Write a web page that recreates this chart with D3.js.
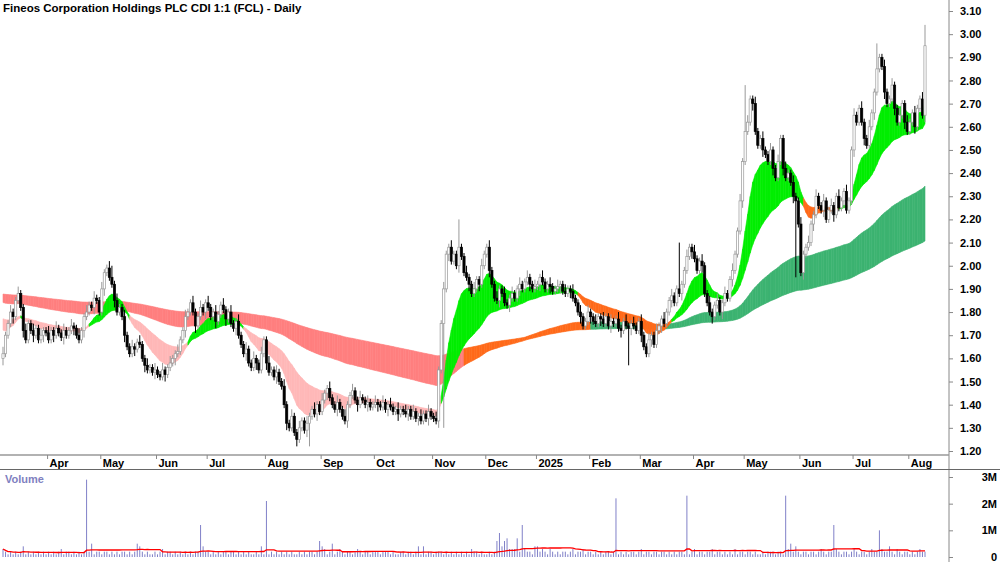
<!DOCTYPE html><html><head><meta charset="utf-8">
<script src="https://cdn.jsdelivr.net/npm/d3@7"></script>
<style>body{margin:0;background:#fff}svg{display:block;font-family:Arial,"Liberation Sans",sans-serif}</style></head><body>
<svg id="c" width="1000" height="562"></svg>
<script>
const title = "Fineos Corporation Holdings PLC CDI 1:1 (FCL) - Daily";
const monthLabels = ["Mar","Apr","May","Jun","Jul","Aug","Sep","Oct","Nov","Dec","2025","Feb","Mar","Apr","May","Jun","Jul","Aug"];
const monthCloses = [
 [1.62,1.70,1.75,1.80,1.78,1.85,1.88,1.82,1.72,1.68,1.75,1.72,1.70,1.73,1.68,1.70,1.72,1.71],
 [1.68,1.72,1.70,1.73,1.71,1.69,1.72,1.70,1.72,1.74,1.73,1.70,1.68,1.72,1.78,1.80,1.83,1.82,1.86,1.85,1.80],
 [1.90,1.97,1.99,1.95,1.92,1.85,1.80,1.82,1.78,1.70,1.65,1.62,1.65,1.64,1.67,1.66,1.60,1.57,1.55,1.56,1.54,1.55],
 [1.53,1.52,1.55,1.53,1.56,1.58,1.60,1.62,1.63,1.68,1.72,1.78,1.80,1.84,1.80,1.74,1.78,1.82,1.80,1.84],
 [1.82,1.78,1.80,1.76,1.79,1.83,1.81,1.77,1.80,1.75,1.73,1.76,1.70,1.66,1.62,1.64,1.58,1.56,1.60,1.58,1.55,1.62,1.68],
 [1.58,1.54,1.55,1.52,1.54,1.50,1.48,1.40,1.32,1.30,1.35,1.28,1.25,1.30,1.33,1.29,1.32,1.35,1.38,1.36,1.40,1.37],
 [1.42,1.45,1.47,1.43,1.40,1.38,1.41,1.38,1.35,1.33,1.40,1.44,1.46,1.42,1.40,1.43,1.42,1.40,1.41,1.39,1.40],
 [1.41,1.40,1.39,1.41,1.38,1.40,1.39,1.37,1.38,1.36,1.38,1.37,1.36,1.38,1.35,1.37,1.34,1.35,1.33,1.36,1.34,1.37,1.35],
 [1.34,1.33,1.55,1.75,1.90,2.05,2.08,2.02,2.05,2.00,2.08,2.04,1.97,1.95,1.92,1.88,1.90,1.94,1.92,2.00,2.05],
 [2.08,1.98,1.92,1.86,1.85,1.90,1.88,1.84,1.83,1.86,1.88,1.86,1.90,1.92,1.90,1.93,1.95,1.92,1.90,1.91],
 [1.92,1.95,1.93,1.90,1.92,1.91,1.89,1.90,1.91,1.92,1.89,1.88,1.90,1.89,1.86,1.84,1.80,1.78,1.74,1.76,1.80],
 [1.78,1.76,1.75,1.78,1.77,1.75,1.78,1.74,1.76,1.75,1.77,1.73,1.72,1.76,1.74,1.73,1.75,1.74,1.72,1.76],
 [1.70,1.65,1.62,1.68,1.70,1.66,1.72,1.74,1.77,1.75,1.80,1.85,1.87,1.84,1.90,1.88,1.92,1.98,2.04,2.08,2.06],
 [2.03,1.98,2.02,2.00,1.88,1.84,1.80,1.78,1.83,1.85,1.80,1.84,1.88,1.86,1.94,1.98,2.05,2.15,2.28,2.45],
 [2.58,2.62,2.72,2.70,2.58,2.52,2.55,2.50,2.48,2.45,2.50,2.42,2.38,2.45,2.55,2.42,2.38,2.40,2.36,2.30,2.28,2.18],
 [1.97,2.05,2.08,2.10,2.18,2.22,2.30,2.26,2.24,2.28,2.20,2.24,2.26,2.22,2.30,2.25,2.28,2.32,2.24,2.28,2.50],
 [2.65,2.62,2.68,2.62,2.55,2.52,2.60,2.66,2.75,2.85,2.90,2.86,2.75,2.70,2.72,2.78,2.68,2.62,2.65,2.70,2.62,2.58],
 [2.62,2.66,2.60,2.68,2.72,2.65,2.95]
];
const firstOpen = [1.60];
const extraHighs = [[6,1.91],[43,2.00],[180,2.20],[267,2.10],[293,2.78],[345,2.96],[364,3.04]];
const extraLows  = [[121,1.22],[174,1.30],[247,1.57],[313,1.95]];
const shortPeriods = [12,15,20,25,30,35];
const shortSeeds   = [1.74,1.745,1.755,1.765,1.775,1.78];
const longPeriods  = [110,130,150,170,200,240];
const longSeeds    = [1.845,1.852,1.859,1.866,1.873,1.88];
// daily volumes, in units of 100k shares
const volumes = [3,2,1,2,1,2,1,2,4,1,2,1,2,1,2,1,2,1,2,1,2,1,2,3,1,2,2,1,2,1,2,1,2,29,2,5,1,2,2,1,2,2,1,2,1,2,1,2,2,1,2,1,2,5,4,2,1,2,1,1,2,1,2,3,1,2,2,1,2,1,2,1,2,1,2,1,2,2,12,4,2,2,1,2,1,2,1,2,2,1,2,2,1,2,1,2,1,2,1,1,2,1,4,1,21,1,2,1,2,1,2,1,2,1,2,1,1,2,1,2,1,2,2,1,2,6,4,3,1,2,5,1,2,3,2,1,2,2,1,2,3,2,1,2,2,1,2,2,2,1,2,2,2,1,2,1,1,2,2,1,2,2,1,2,4,1,4,1,2,2,1,2,2,2,1,2,1,2,1,2,1,2,1,2,1,3,2,2,1,2,1,1,2,1,2,6,9,4,6,7,3,3,3,7,2,12,3,2,2,1,4,4,2,3,2,1,3,2,1,2,1,2,2,1,2,3,1,2,2,3,1,2,2,1,2,1,2,1,2,2,1,2,22,1,2,1,2,1,2,2,1,2,3,1,2,2,1,2,2,1,2,2,1,2,1,2,1,2,2,1,23,1,2,3,1,2,2,1,2,2,3,1,2,2,1,2,1,2,1,3,1,2,2,1,2,2,1,2,1,1,2,1,2,2,2,1,2,2,1,23,3,5,2,4,2,1,2,2,1,2,2,1,2,3,2,1,2,2,12,3,2,1,2,2,1,2,3,2,1,2,2,1,2,3,2,2,10,3,2,2,4,2,1,3,2,1,2,2,1,2,1,2,3,2,2,1,2,1,2,2,1,2,3,1,8,2,3,2];
const priceTicks = [1.20,1.30,1.40,1.50,1.60,1.70,1.80,1.90,2.00,2.10,2.20,2.30,2.40,2.50,2.60,2.70,2.80,2.90,3.00,3.10];
const volTicks = [0,1,2,3];
const volTickLabels = ["0","1M","2M","3M"];

const closes = monthCloses.flat();
const n = closes.length;
const monthStart = []; { let k=0; monthCloses.forEach(m=>{monthStart.push(k); k+=m.length;}); }
const opens = closes.map((c,i)=> i===0? firstOpen[0] : closes[i-1]);
const highs = closes.map((c,i)=> Math.max(c,opens[i]) + (i%3===0?0.03:0.015));
const lows = closes.map((c,i)=> Math.min(c,opens[i]) - (i%4===0?0.03:0.015));
extraHighs.forEach(([i,v])=>{ if(i<n) highs[i]=Math.max(highs[i],v); });
extraLows.forEach(([i,v])=>{ if(i<n) lows[i]=Math.min(lows[i],v); });

function ema(p,seed){ const k=2/(p+1); let v=seed; return closes.map(c=> (v = c*k + v*(1-k))); }
const S = shortPeriods.map((p,j)=>ema(p,shortSeeds[j]));
const L = longPeriods.map((p,j)=>ema(p,longSeeds[j]));
const sHi = d3.range(n).map(i=>d3.max(S,s=>s[i])), sLo = d3.range(n).map(i=>d3.min(S,s=>s[i]));
const lHi = d3.range(n).map(i=>d3.max(L,s=>s[i])), lLo = d3.range(n).map(i=>d3.min(L,s=>s[i]));

const svg = d3.select("#c");
const axisX = 949;
const x = d3.scaleLinear().domain([0,n-1]).range([3,925]);
const y = d3.scaleLinear().domain([1.20,3.10]).range([451,11]);
const yv = d3.scaleLinear().domain([0,3]).range([557,477]);

svg.append("defs").append("clipPath").attr("id","pc").append("rect").attr("x",0).attr("y",0).attr("width",axisX).attr("height",454);
const pg = svg.append("g").attr("clip-path","url(#pc)");

function band(hi,lo,colorFn){
  for(let i=0;i<n-1;i++){
    const pts=[[x(i),y(hi[i])],[x(i+1),y(hi[i+1])],[x(i+1),y(lo[i+1])],[x(i),y(lo[i])]];
    const c = colorFn(i);
    pg.append("path").attr("d",d3.line()(pts)+"Z").attr("fill",c).attr("stroke",c).attr("stroke-width",0.6);
  }
}
const slow = L[L.length-1];
const deepBelow = closes.map((c,i)=> c < lLo[i]-0.15);
band(lHi,lLo,i=>{
  if(L[0][i] < slow[i] && sLo[i] < lHi[i]) return "#ff7f7f";
  return deepBelow.slice(Math.max(0,i-60),i+1).some(b=>b) ? "#ff6a1a" : "#3cb371";
});
band(sHi,sLo,i=>{
  if(S[0][i] > S[5][i]) return "#00ee00";
  return (sHi[i] < lLo[i]) ? "#ffb8b8" : "#ff6a1a";
});

const cw = 2.2;
pg.selectAll("line.w").data(closes).join("line")
  .attr("x1",(d,i)=>x(i)).attr("x2",(d,i)=>x(i))
  .attr("y1",(d,i)=>y(highs[i])).attr("y2",(d,i)=>y(lows[i]))
  .attr("stroke",(d,i)=>d>=opens[i]?"#999":"#000").attr("stroke-width",1);
pg.selectAll("rect.b").data(closes).join("rect")
  .attr("x",(d,i)=>x(i)-cw/2).attr("width",cw)
  .attr("y",(d,i)=>y(Math.max(d,opens[i])))
  .attr("height",(d,i)=>Math.max(1,Math.abs(y(d)-y(opens[i]))))
  .attr("fill",(d,i)=>d>=opens[i]?"#fff":"#000")
  .attr("stroke",(d,i)=>d>=opens[i]?"#999":"#000").attr("stroke-width",0.7);

const vols = volumes.slice(0,n);
svg.selectAll("line.v").data(vols).join("line")
  .attr("x1",(d,i)=>x(i)).attr("x2",(d,i)=>x(i))
  .attr("y1",yv(0)).attr("y2",d=>yv(d/10))
  .attr("stroke","#8080c8").attr("stroke-width",1);
const vma = vols.map((v,i)=>d3.mean(vols.slice(Math.max(0,i-29),i+1)));
svg.append("path").attr("d",d3.line().x((d,i)=>x(i)).y(d=>yv(d/10))(vma))
  .attr("fill","none").attr("stroke","#ff0000").attr("stroke-width",1.3);
svg.append("text").attr("x",5).attr("y",483).text("Volume").attr("fill","#8080c0").attr("font-size",11).attr("font-weight","bold");

svg.append("line").attr("x1",axisX).attr("x2",axisX).attr("y1",0).attr("y2",562).attr("stroke","#888");
svg.append("line").attr("x1",0).attr("x2",axisX).attr("y1",455).attr("y2",455).attr("stroke","#999").attr("stroke-width",1.5);
svg.append("line").attr("x1",0).attr("x2",1000).attr("y1",469.5).attr("y2",469.5).attr("stroke","#666");

const ya = svg.append("g").attr("transform",`translate(${axisX},0)`)
  .call(d3.axisRight(y).tickValues(priceTicks).tickFormat(d3.format(".2f")).tickSize(4));
ya.select(".domain").remove();
ya.selectAll("text").attr("font-size",11).attr("font-weight","bold").attr("x",11).attr("fill","#000");
ya.selectAll("line").attr("stroke","#888");
const va = svg.append("g").attr("transform",`translate(${axisX},0)`)
  .call(d3.axisRight(yv).tickValues(volTicks).tickFormat((d,i)=>volTickLabels[i]).tickSize(4));
va.select(".domain").remove();
va.selectAll("text").attr("font-size",11).attr("font-weight","bold").attr("x",48).attr("text-anchor","end").attr("fill","#000");
va.selectAll("line").attr("stroke","#888");

monthLabels.forEach((m,k)=>{
  if(k===0) return;
  const xx = x(monthStart[k]) - 1;
  svg.append("line").attr("x1",xx).attr("x2",xx).attr("y1",455).attr("y2",459).attr("stroke","#888");
  svg.append("text").attr("x",xx+2).attr("y",467).text(m).attr("font-size",11).attr("font-weight","bold");
});

svg.append("text").attr("x",3).attr("y",12).text(title).attr("font-size",11.5).attr("font-weight","bold");
</script></body></html>
